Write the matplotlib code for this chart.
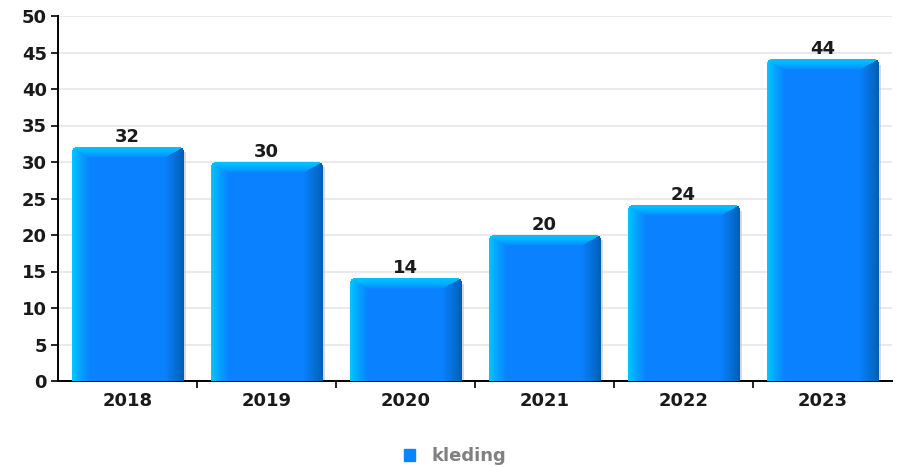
import numpy as np
import matplotlib
matplotlib.use('Agg')
import matplotlib.pyplot as plt
from matplotlib.patches import Rectangle

years = ['2018', '2019', '2020', '2021', '2022', '2023']
kleding = [32, 30, 14, 20, 24, 44]

W, H = 901, 467
fig = plt.figure(figsize=(W / 100, H / 100), dpi=100)
ax = fig.add_axes([58 / W, (H - 381) / H, (892 - 58) / W, (381 - 16) / H])
ax.set_xlim(-0.5, len(years) - 0.5)
ax.set_ylim(0, 50)

pxX = (892 - 58) / len(years)      # pixels per x unit
pxY = (381 - 16) / 50.0            # pixels per y unit

def bevelImage(w, h):
    base = np.array([0.04, 0.51, 1.0])
    light = np.array([0.0, 0.80, 1.0])
    top = np.array([0.0, 0.76, 1.0])
    dark = np.array([0.0, 0.36, 0.68])
    cols = np.arange(w)[None, :] + 0.5
    rows = np.arange(h)[:, None] + 0.5
    # normalised distance to each edge (left, right, top)
    dl = np.broadcast_to(cols / 18.0, (h, w))
    dr = np.broadcast_to((w - cols) / 20.0, (h, w))
    dt = np.broadcast_to(rows / 11.0, (h, w))
    img = np.ones((h, w, 4))
    img[..., :3] = base
    d = np.stack([dl, dr, dt])
    which = np.argmin(d, axis=0)
    dmin = np.min(d, axis=0)
    for k, (c, p) in enumerate([(light, 0.8), (dark, 0.8), (top, 1.6)]):
        t = (np.clip(dmin, 0, 1) ** p)[..., None]
        m = (which == k) & (dmin < 1)
        mix = c * (1 - t) + base * t
        img[m, :3] = mix[m]
    # rounded top corners
    r = 5.0
    left = (cols < r) & (rows < r) & ((cols - r) ** 2 + (rows - r) ** 2 > r ** 2)
    right = (cols > w - r) & (rows < r) & ((cols - (w - r)) ** 2 + (rows - r) ** 2 > r ** 2)
    img[left | right, 3] = 0
    return img

bars = ax.bar(range(len(years)), kleding, width=0.8, color='none', edgecolor='none', zorder=3)
for rect, v in zip(bars, kleding):
    x0 = rect.get_x()
    bw = rect.get_width()
    h = rect.get_height()
    # shadow on the right
    ax.add_patch(Rectangle((x0 + bw, 0), 3 / pxX, h - 5 / pxY, color='#c0c0c0', alpha=0.6, lw=0, zorder=2))
    img = bevelImage(int(round(bw * pxX)), max(int(round(h * pxY)), 1))
    ax.imshow(img, extent=(x0, x0 + bw, 0, h), aspect='auto', interpolation='bilinear', zorder=3)
    ax.annotate(str(v), (x0 + bw / 2, h), xytext=(0, 1), textcoords='offset points',
                ha='center', va='bottom', fontsize=13, fontweight='bold', color='#1a1a1a', zorder=4)

ax.set_xlim(-0.5, len(years) - 0.5)
ax.set_ylim(0, 50)

ax.set_yticks(np.arange(0, 51, 5))
ax.yaxis.grid(True, color='#e6e6e6', lw=1.2, zorder=0)
ax.set_axisbelow(True)
ax.set_xticks(range(len(years)))
ax.set_xticklabels(years)
ax.set_xticks(np.arange(0.5, len(years) - 0.5, 1), minor=True)
ax.tick_params(axis='x', which='major', length=0, pad=8)
ax.tick_params(axis='x', which='minor', length=5, width=1.2, color='black')
ax.tick_params(axis='y', length=5, width=1.2, pad=3)
for lab in ax.get_xticklabels() + ax.get_yticklabels():
    lab.set_fontsize(13)
    lab.set_fontweight('bold')
    lab.set_color('#1a1a1a')

for s in ['top', 'right']:
    ax.spines[s].set_visible(False)
for s in ['left', 'bottom']:
    ax.spines[s].set_linewidth(1.4)
    ax.spines[s].set_color('black')

handle = Rectangle((0, 0), 1, 1, color='#0a84ff')
leg = fig.legend([handle], ['kleding'], loc='center', bbox_to_anchor=(455 / W, 1 - 456 / H),
                 frameon=False, handlelength=0.65, handleheight=0.65, handletextpad=0.9,
                 prop={'size': 13, 'weight': 'bold'})
for txt in leg.get_texts():
    txt.set_color('#808080')

fig.savefig('out.png', dpi=100)
